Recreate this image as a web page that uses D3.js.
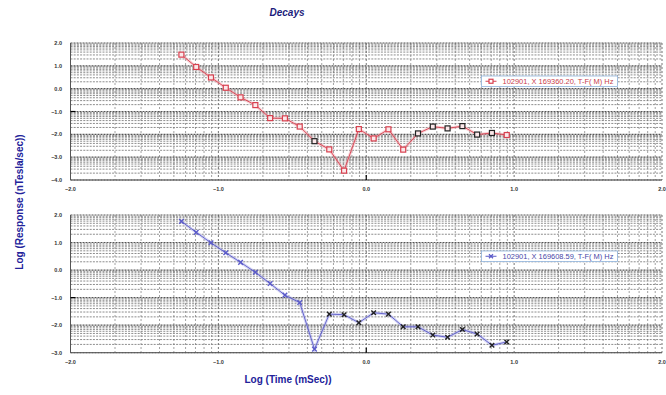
<!DOCTYPE html>
<html><head><meta charset="utf-8">
<script src="https://cdnjs.cloudflare.com/ajax/libs/d3/7.8.5/d3.min.js"></script>
<style>body{margin:0;background:#fff}svg{display:block}</style>
</head><body>
<script>
const logTime = [-1.25,-1.15,-1.05,-0.95,-0.85,-0.75,-0.65,-0.55,-0.45,-0.35,-0.25,-0.15,-0.05,0.05,0.15,0.25,0.35,0.45,0.55,0.65,0.75,0.85,0.95];
const topValues = [1.49,0.95,0.49,0.04,-0.38,-0.72,-1.29,-1.30,-1.66,-2.30,-2.66,-3.59,-1.77,-2.18,-1.78,-2.67,-1.96,-1.66,-1.74,-1.64,-2.01,-1.94,-2.03];
const topNegative = [0,0,0,0,0,0,0,0,0,1,0,0,0,0,0,0,1,1,1,1,1,1,0];
const bottomValues = [1.77,1.37,0.99,0.63,0.28,-0.08,-0.49,-0.91,-1.18,-2.87,-1.60,-1.62,-1.91,-1.55,-1.60,-2.06,-2.06,-2.36,-2.44,-2.16,-2.32,-2.73,-2.61];
const bottomNegative = [0,0,0,0,0,0,0,0,0,0,1,1,1,1,1,1,1,1,1,1,1,1,1];
const xTicks = [-2,-1,0,1,2];
const topYTicks = [2,1,0,-1,-2,-3,-4];
const bottomYTicks = [2,1,0,-1,-2,-3];
const topLegend = "102901, X 169360.20, T-F( M) Hz";
const bottomLegend = "102901, X 169608.59, T-F( M) Hz";
const title = "Decays";
const xTitle = "Log (Time (mSec))";
const yTitle = "Log (Response (nTesla/sec))";

const W = 666, H = 395;
const svg = d3.select("body").append("svg").attr("width", W).attr("height", H);
const font = "'Liberation Sans', Arial, sans-serif";
const x = d3.scaleLinear().domain([-2, 2]).range([70.5, 662]);

function minorPositions(lo, hi) {
  const out = [];
  for (let n = lo; n < hi; n++) for (let k = 2; k <= 9; k++) out.push(n + Math.log10(k));
  return out;
}

function panel(opts) {
  const y = d3.scaleLinear().domain(opts.domain).range(opts.range);
  const g = svg.append("g");
  const [y0, y1] = opts.range;
  const vMinor = minorPositions(-2, 2);
  g.selectAll(".vmin").data(vMinor).join("line")
    .attr("x1", d => x(d)).attr("x2", d => x(d)).attr("y1", y1).attr("y2", y0)
    .attr("stroke", "#8a8a8a").attr("stroke-width", 0.8).attr("stroke-dasharray", "2,2");
  g.selectAll(".vmaj").data(xTicks).join("line")
    .attr("x1", d => x(d)).attr("x2", d => x(d)).attr("y1", y1).attr("y2", y0)
    .attr("stroke", "#666").attr("stroke-width", 0.9).attr("stroke-dasharray", "2,2");
  const hMinor = minorPositions(opts.domain[0], opts.domain[1]);
  g.selectAll(".hmin").data(hMinor).join("line")
    .attr("x1", x(-2)).attr("x2", x(2)).attr("y1", d => y(d)).attr("y2", d => y(d))
    .attr("stroke", "#707070").attr("stroke-width", 0.8).attr("stroke-dasharray", "2,1.2");
  g.selectAll(".hmaj").data(opts.yTicks).join("line")
    .attr("x1", x(-2)).attr("x2", x(2)).attr("y1", d => y(d)).attr("y2", d => y(d))
    .attr("stroke", "#555").attr("stroke-width", 1.1).attr("stroke-dasharray", "2,1");
  g.append("line").attr("x1", x(-2)).attr("x2", x(-2)).attr("y1", y1).attr("y2", y0)
    .attr("stroke", "#555").attr("stroke-width", 1);
  g.append("line").attr("x1", x(-2)).attr("x2", x(2)).attr("y1", y0).attr("y2", y0)
    .attr("stroke", "#555").attr("stroke-width", 1);
  g.append("line").attr("x1", x(0)).attr("x2", x(0)).attr("y1", y0 - 5).attr("y2", y0)
    .attr("stroke", "#000").attr("stroke-width", 1.2);
  g.append("line").attr("x1", x(-2)).attr("x2", x(-2) + 5).attr("y1", y(-1)).attr("y2", y(-1))
    .attr("stroke", "#000").attr("stroke-width", 1.2);
  g.selectAll(".yl").data(opts.yTicks).join("text")
    .attr("x", 62).attr("y", d => y(d) + 2)
    .attr("text-anchor", "end").attr("font-family", font).attr("font-size", 5.5)
    .attr("font-weight", "bold").attr("fill", "#333").text(d => d3.format(".1f")(d));
  g.selectAll(".xl").data(xTicks).join("text")
    .attr("x", d => x(d)).attr("y", y0 + 11)
    .attr("text-anchor", "middle").attr("font-family", font).attr("font-size", 5.5)
    .attr("font-weight", "bold").attr("fill", "#333").text(d => d3.format(".1f")(d));
  const pts = logTime.map((t, i) => [t, opts.values[i], opts.neg[i]]);
  const line = d3.line().x(d => x(d[0])).y(d => y(d[1]));
  g.append("path").datum(pts).attr("d", line).attr("fill", "none")
    .attr("stroke", opts.halo).attr("stroke-width", 3).attr("stroke-opacity", 0.45);
  g.append("path").datum(pts).attr("d", line).attr("fill", "none")
    .attr("stroke", opts.color).attr("stroke-width", 0.9);
  if (opts.marker === "square") {
    g.selectAll(".m").data(pts).join("rect")
      .attr("x", d => x(d[0]) - 2.5).attr("y", d => y(d[1]) - 2.5)
      .attr("width", 5).attr("height", 5)
      .attr("fill", "#fbe8ea").attr("stroke", d => d[2] ? "#222" : opts.color).attr("stroke-width", 1.2);
  } else {
    const s = 2.3;
    g.selectAll(".m").data(pts).join("path")
      .attr("d", d => { const cx = x(d[0]), cy = y(d[1]);
        return `M${cx-s},${cy-s}L${cx+s},${cy+s}M${cx-s},${cy+s}L${cx+s},${cy-s}`; })
      .attr("stroke", d => d[2] ? "#222" : opts.color).attr("stroke-width", 1.4);
  }
  const lx = 481.5, ly = opts.legendY, lw = 136, lh = 10.5;
  g.append("rect").attr("x", lx).attr("y", ly).attr("width", lw).attr("height", lh)
    .attr("fill", "#fff").attr("stroke", "#8fb4dc").attr("stroke-width", 0.8);
  g.append("line").attr("x1", lx + 4).attr("x2", lx + 15).attr("y1", ly + lh / 2).attr("y2", ly + lh / 2)
    .attr("stroke", opts.color).attr("stroke-width", 1);
  if (opts.marker === "square") {
    g.append("rect").attr("x", lx + 7.5).attr("y", ly + lh / 2 - 2).attr("width", 4).attr("height", 4)
      .attr("fill", "#fff").attr("stroke", opts.color).attr("stroke-width", 1.2);
  } else {
    const cx = lx + 9.5, cy = ly + lh / 2, s = 2;
    g.append("path").attr("d", `M${cx-s},${cy-s}L${cx+s},${cy+s}M${cx-s},${cy+s}L${cx+s},${cy-s}`)
      .attr("stroke", opts.color).attr("stroke-width", 1.3);
  }
  g.append("text").attr("x", lx + 21).attr("y", ly + lh / 2 + 2.5)
    .attr("font-family", font).attr("font-size", 7).attr("fill", opts.textColor)
    .attr("textLength", 111).attr("lengthAdjust", "spacingAndGlyphs").text(opts.legend);
}

panel({domain: [-4, 2], range: [180, 43], yTicks: topYTicks, values: topValues, neg: topNegative,
  color: "#d8404f", halo: "#f0a0a8", textColor: "#c8404c", marker: "square", legend: topLegend, legendY: 76});
panel({domain: [-3, 2], range: [352.7, 215], yTicks: bottomYTicks, values: bottomValues, neg: bottomNegative,
  color: "#5a5ac8", halo: "#a8a8e8", textColor: "#4848a8", marker: "x", legend: bottomLegend, legendY: 251});

svg.append("text").attr("x", 287).attr("y", 16).attr("text-anchor", "middle")
  .attr("font-family", font).attr("font-size", 10).attr("font-weight", "bold").attr("font-style", "italic")
  .attr("fill", "#1c1c7c").text(title);
svg.append("text").attr("x", 288).attr("y", 383).attr("text-anchor", "middle")
  .attr("font-family", font).attr("font-size", 10).attr("font-weight", "bold")
  .attr("fill", "#22229a").text(xTitle);
svg.append("text").attr("transform", "translate(23,202) rotate(-90)").attr("text-anchor", "middle")
  .attr("font-family", font).attr("font-size", 10).attr("font-weight", "bold")
  .attr("fill", "#22229a").text(yTitle);
</script>
</body></html>
